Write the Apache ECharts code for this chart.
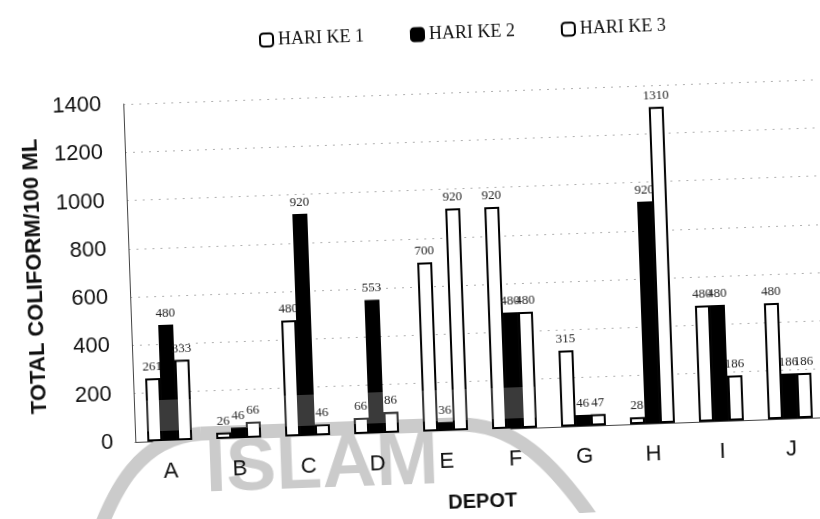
<!DOCTYPE html>
<html>
<head>
<meta charset="utf-8">
<script src="https://cdn.jsdelivr.net/npm/echarts@6/dist/echarts.min.js"></script>
<style>
  html, body { margin: 0; padding: 0; background: #fff; overflow: hidden; }
  #chart { width: 820px; height: 519px; transform: rotate(-2.05deg); transform-origin: 50% 50%; }
</style>
</head>
<body>
<div id="chart"></div>
<script>
// Total coliform per 100 mL for each depot, three sampling days
const depots = ['A', 'B', 'C', 'D', 'E', 'F', 'G', 'H', 'I', 'J'];
const seriesNames = ['HARI KE 1', 'HARI KE 2', 'HARI KE 3'];
const hariKe1 = [261, 26, 480, 66, 700, 920, 315, 28, 480, 480];
const hariKe2 = [480, 46, 920, 553, 36, 480, 46, 920, 480, 186];
const hariKe3 = [333, 66, 46, 86, 920, 480, 47, 1310, 186, 186];
const yMin = 0, yMax = 1400, yStep = 200;
const yTitle = 'TOTAL COLIFORM/100 ML';
const xTitle = 'DEPOT';
const watermarkText = 'ISLAM';

const serif = '"Liberation Serif", "Times New Roman", serif';
const sans = '"Liberation Sans", Arial, sans-serif';

const fills = ['#ffffff', '#000000', '#ffffff'];
const values = [hariKe1, hariKe2, hariKe3];

const chart = echarts.init(document.getElementById('chart'), null, { renderer: 'canvas' });

const series = values.map((vals, i) => ({
  name: seriesNames[i],
  type: 'bar',
  data: vals,
  z: 2 + i,
  barGap: '0%',
  barCategoryGap: '35%',
  itemStyle: { color: fills[i], borderColor: '#000', borderWidth: 2 },
  label: {
    show: true,
    position: 'top',
    distance: 5,
    fontFamily: serif,
    fontSize: 13,
    color: '#222'
  }
}));

const wmGray = '#cbcbcb';
const wmStroke = { stroke: wmGray, lineWidth: 14, fill: null };

chart.setOption({
  animation: false,
  backgroundColor: '#fff',
  legend: {
    data: seriesNames,
    top: 21,
    left: 262,
    itemWidth: 13,
    itemHeight: 13,
    itemGap: 46,
    textStyle: { fontFamily: serif, fontSize: 18, color: '#111' }
  },
  grid: { left: 129, right: 1, top: 94, bottom: 86, containLabel: false },
  xAxis: {
    type: 'category',
    data: depots,
    name: xTitle,
    nameLocation: 'middle',
    nameGap: 62,
    nameTextStyle: { fontFamily: sans, fontWeight: 'bold', fontSize: 20, color: '#111' },
    axisLine: { lineStyle: { color: '#444', width: 1 } },
    axisTick: { show: false },
    axisLabel: { fontFamily: sans, fontSize: 22, color: '#111', margin: 20 }
  },
  yAxis: {
    type: 'value',
    min: yMin,
    max: yMax,
    interval: yStep,
    name: yTitle,
    nameLocation: 'middle',
    nameGap: 83,
    nameTextStyle: { fontFamily: sans, fontWeight: 'bold', fontSize: 22, color: '#111' },
    axisLine: { show: true, lineStyle: { color: '#444', width: 1 } },
    axisTick: { show: false },
    axisLabel: {
      fontFamily: sans, fontSize: 22, color: '#111', margin: 22,
      formatter: v => String(v)
    },
    splitLine: { show: true, lineStyle: { color: '#b0b0b0', width: 1, type: [2, 6] } }
  },
  graphic: [
    // faint page watermark: logo outline and lettering behind the plot
    {
      type: 'bezierCurve', z: 1, silent: true,
      shape: { x1: 80, y1: 545, cpx1: 105, cpy1: 475, cpx2: 135, cpy2: 428, x2: 195, y2: 426 },
      style: wmStroke
    },
    {
      type: 'line', z: 1, silent: true,
      shape: { x1: 195, y1: 426, x2: 450, y2: 426 },
      style: wmStroke
    },
    {
      type: 'bezierCurve', z: 1, silent: true,
      shape: { x1: 450, y1: 426, cpx1: 505, cpy1: 426, cpx2: 545, cpy2: 462, x2: 595, y2: 545 },
      style: wmStroke
    },
    {
      type: 'text', z: -1, silent: true,
      x: 198, y: 463,
      style: {
        text: watermarkText,
        font: 'bold 75px ' + sans,
        fill: wmGray,
        textVerticalAlign: 'middle'
      }
    },
    // the same watermark band greys out the dark bars it crosses
    {
      type: 'rect', z: 50, silent: true,
      shape: { x: 130, y: 391, width: 400, height: 31 },
      style: { fill: '#3a3a3a', blend: 'lighten' }
    }
  ],
  series: series
});
</script>
</body>
</html>
